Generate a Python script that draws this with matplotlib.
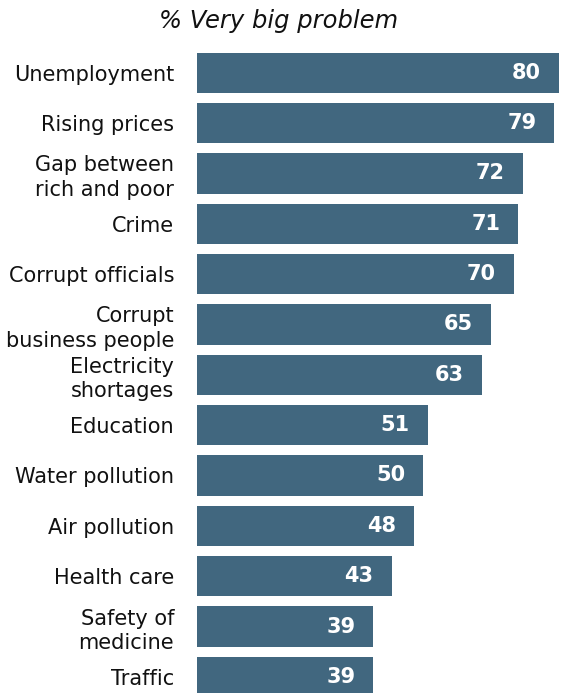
import matplotlib
matplotlib.use("Agg")
import matplotlib.pyplot as plt

categories = [
    "Unemployment",
    "Rising prices",
    "Gap between\nrich and poor",
    "Crime",
    "Corrupt officials",
    "Corrupt\nbusiness people",
    "Electricity\nshortages",
    "Education",
    "Water pollution",
    "Air pollution",
    "Health care",
    "Safety of\nmedicine",
    "Traffic",
]
values = [80, 79, 72, 71, 70, 65, 63, 51, 50, 48, 43, 39, 39]

bar_color = "#41677F"
W, H = 566, 693
fig = plt.figure(figsize=(W / 100, H / 100), dpi=100)

# axes placed in pixel terms; bottom bar runs past the lower edge
x0_px, px_per_unit = 197, 4.525
xmax = 81
top_px = 47.5
pitch = 50.35
n = len(categories)
ax_h = n * pitch
ax = fig.add_axes([x0_px / W, (H - top_px - ax_h) / H,
                   xmax * px_per_unit / W, ax_h / H])

ypos = list(range(n))
ax.barh(ypos, values, height=0.80, color=bar_color, edgecolor="none")
ax.set_xlim(0, xmax)
ax.set_ylim(n - 0.5, -0.5)
ax.set_yticks(ypos)
ax.set_yticklabels(categories, fontsize=15, linespacing=1.28, color="#111111")
ax.tick_params(axis="y", length=0, pad=16.5)
ax.set_xticks([])
for s in ax.spines.values():
    s.set_visible(False)

for y, v in zip(ypos, values):
    ax.annotate(str(v), xy=(v, y), xytext=(-18 * 72 / 100, 0),
                textcoords="offset points", ha="right", va="center",
                color="white", fontsize=15, fontweight="bold")

fig.text(279 / W, 1 - 21 / H, "% Very big problem", ha="center", va="center",
         fontsize=17.5, style="italic", color="#111111")

fig.savefig("out.png", dpi=100)
